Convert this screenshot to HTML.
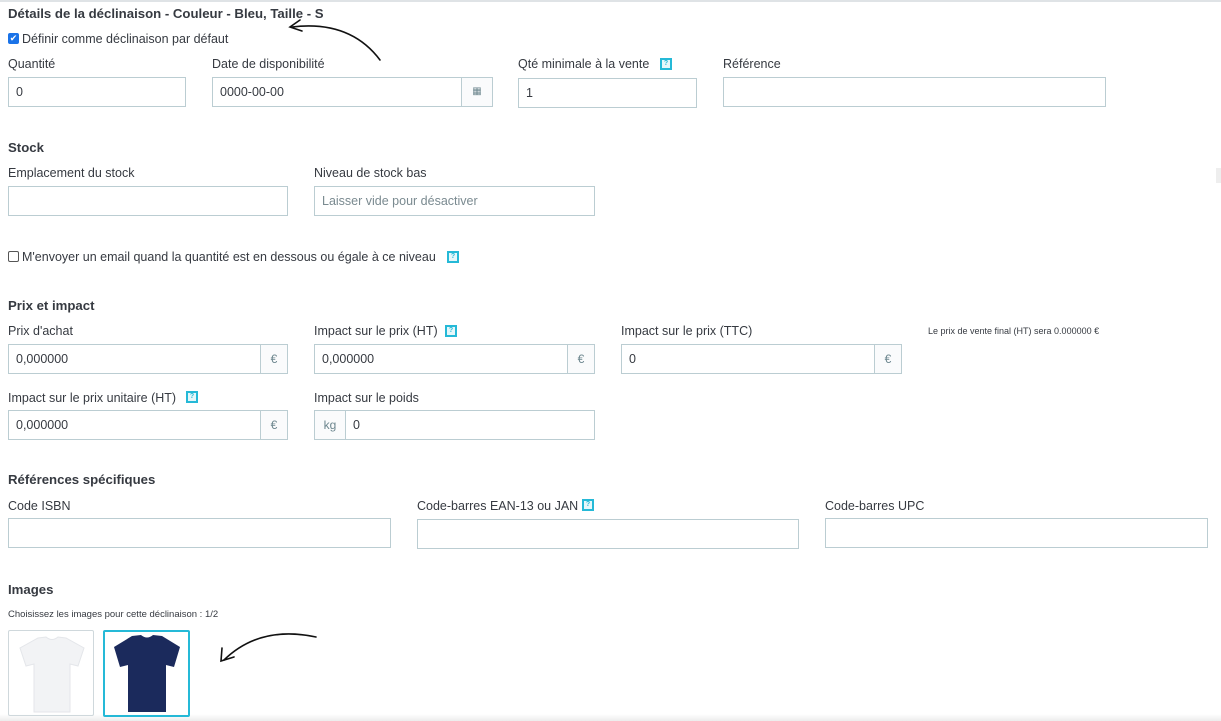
<!DOCTYPE html>
<html><head><meta charset="utf-8"><style>
*{box-sizing:border-box;margin:0;padding:0}
body{width:1221px;height:721px;position:relative;background:#fff;font-family:"Liberation Sans","DejaVu Sans",sans-serif;color:#363a41;overflow:hidden}
.a{position:absolute;white-space:nowrap}
.l{font-size:12.5px;color:#363a41;margin-top:1px}
.h{font-size:13.2px;font-weight:bold;color:#363a41;margin-top:1px}
.i{position:absolute;border:1px solid #bbcdd2;background:#fff;height:30px;font-size:12.5px;padding-left:7px;line-height:29px;color:#363a41}
.ad{position:absolute;top:0;bottom:0;width:27px;border-left:1px solid #bbcdd2;background:#fafbfc;text-align:center;color:#6c868e;font-size:12px;line-height:28px}
.q{position:absolute;width:12px;height:12px;border:2px solid #25b9d7;background:#e6f7fa;font-size:7px;line-height:8px;text-align:center;color:#25b9d7;font-weight:bold}
.cb{position:absolute;width:11px;height:11px;border:1px solid #555;border-radius:2px;background:#fff}
</style></head><body>
<div class="a" style="left:0;top:0;width:1221px;height:2px;background:#dfe3e6"></div>
<div class="a" style="left:0;top:714px;width:1221px;height:7px;background:linear-gradient(#fff,#ececec)"></div>
<div class="a" style="left:1216px;top:168px;width:5px;height:15px;background:#eee"></div>

<div class="a h" style="left:8px;top:5px">Détails de la déclinaison - Couleur - Bleu, Taille - S</div>
<div class="cb" style="left:8px;top:33px;background:#1a73e8;border-color:#1a73e8;color:#fff;font-size:9px;line-height:9px;text-align:center">✔</div>
<div class="a l" style="left:22px;top:31px">Définir comme déclinaison par défaut</div>

<div class="a l" style="left:8px;top:56px">Quantité</div>
<div class="a l" style="left:212px;top:56px">Date de disponibilité</div>
<div class="a l" style="left:518px;top:56px">Qté minimale à la vente</div>
<div class="q" style="left:660px;top:58px">?</div>
<div class="a l" style="left:723px;top:56px">Référence</div>
<div class="i" style="left:8px;top:77px;width:178px">0</div>
<div class="i" style="left:212px;top:77px;width:281px">0000-00-00<div class="ad" style="right:0;width:31px;font-size:10px">▦</div></div>
<div class="i" style="left:518px;top:78px;width:179px">1</div>
<div class="i" style="left:723px;top:77px;width:383px"></div>

<div class="a h" style="left:8px;top:139px">Stock</div>
<div class="a l" style="left:8px;top:165px">Emplacement du stock</div>
<div class="a l" style="left:314px;top:165px">Niveau de stock bas</div>
<div class="i" style="left:8px;top:186px;width:280px"></div>
<div class="i" style="left:314px;top:186px;width:281px;color:#7a8a90">Laisser vide pour désactiver</div>

<div class="cb" style="left:8px;top:251px"></div>
<div class="a l" style="left:22px;top:249px">M'envoyer un email quand la quantité est en dessous ou égale à ce niveau</div>
<div class="q" style="left:447px;top:251px">?</div>

<div class="a h" style="left:8px;top:297px">Prix et impact</div>
<div class="a l" style="left:8px;top:323px">Prix d'achat</div>
<div class="a l" style="left:314px;top:323px">Impact sur le prix (HT)</div>
<div class="q" style="left:445px;top:325px">?</div>
<div class="a l" style="left:621px;top:323px">Impact sur le prix (TTC)</div>
<div class="a" style="left:928px;top:326px;font-size:9px">Le prix de vente final (HT) sera 0.000000 €</div>
<div class="i" style="left:8px;top:344px;width:280px">0,000000<div class="ad" style="right:0">€</div></div>
<div class="i" style="left:314px;top:344px;width:281px">0,000000<div class="ad" style="right:0">€</div></div>
<div class="i" style="left:621px;top:344px;width:281px">0<div class="ad" style="right:0">€</div></div>

<div class="a l" style="left:8px;top:390px">Impact sur le prix unitaire (HT)</div>
<div class="q" style="left:186px;top:391px">?</div>
<div class="a l" style="left:314px;top:390px">Impact sur le poids</div>
<div class="i" style="left:8px;top:410px;width:280px">0,000000<div class="ad" style="right:0">€</div></div>
<div class="i" style="left:314px;top:410px;width:281px;padding-left:38px">0<div class="ad" style="left:0;width:31px;border-left:0;border-right:1px solid #bbcdd2">kg</div></div>

<div class="a h" style="left:8px;top:471px">Références spécifiques</div>
<div class="a l" style="left:8px;top:498px">Code ISBN</div>
<div class="a l" style="left:417px;top:498px">Code-barres EAN-13 ou JAN</div>
<div class="q" style="left:582px;top:499px">?</div>
<div class="a l" style="left:825px;top:498px">Code-barres UPC</div>
<div class="i" style="left:8px;top:518px;width:383px"></div>
<div class="i" style="left:417px;top:519px;width:382px"></div>
<div class="i" style="left:825px;top:518px;width:383px"></div>

<div class="a h" style="left:8px;top:581px">Images</div>
<div class="a" style="left:8px;top:609px;font-size:9.5px">Choisissez les images pour cette déclinaison : 1/2</div>

<div class="a" style="left:8px;top:630px;width:86px;height:86px;border:1px solid #cfd8dc;border-radius:2px"></div>
<svg class="a" style="left:12px;top:634px" width="80" height="80" viewBox="0 0 80 80">
<path d="M26 4 L34 3 Q40 8 46 3 L54 4 L72 14 L66 32 L58 30 L58 78 L22 78 L22 30 L14 32 L8 14 Z" fill="#f2f3f5" stroke="#e4e6ea"/></svg>
<div class="a" style="left:103px;top:630px;width:87px;height:87px;border:2px solid #25b9d7;border-radius:2px"></div>
<svg class="a" style="left:107px;top:634px" width="80" height="80" viewBox="0 0 80 80">
<path d="M25 2 L34 1 Q40 6 46 1 L55 2 L73 13 L67 33 L59 31 L59 78 L21 78 L21 31 L13 33 L7 13 Z" fill="#1b2a5c"/></svg>

<svg class="a" style="left:0;top:0" width="1221" height="721">
<g fill="none" stroke="#111" stroke-width="1.6" stroke-linecap="round">
<path d="M380 60 Q350 20 292 27"/>
<path d="M300 20 L290 27 L302 31"/>
<path d="M316 637 Q260 625 224 660"/>
<path d="M222 648 L221 661 L234 657"/>
</g></svg>
</body></html>
